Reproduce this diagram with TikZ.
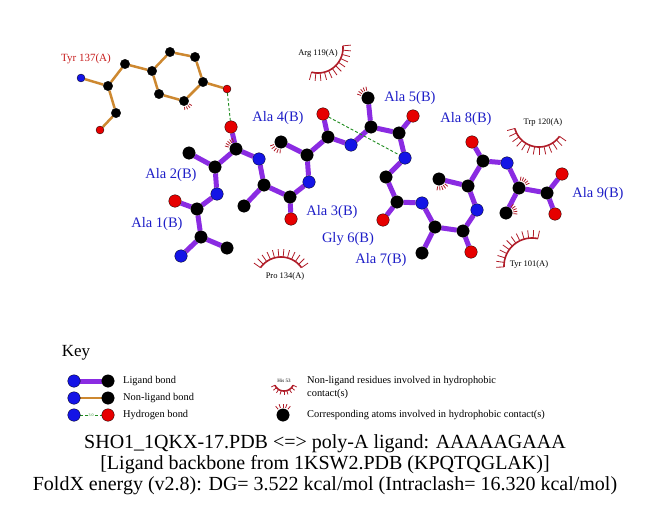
\documentclass[tikz,border=0pt]{standalone}
\usepackage{fontspec}
\setmainfont{Liberation Serif}
\usetikzlibrary{backgrounds}
\definecolor{ligpurple}{RGB}{138,43,226}
\definecolor{nlorange}{RGB}{205,136,48}
\definecolor{atomblue}{RGB}{20,20,230}
\definecolor{atomred}{RGB}{230,0,0}
\definecolor{hbgreen}{RGB}{30,140,30}
\definecolor{lashred}{RGB}{176,28,40}
\definecolor{lblue}{RGB}{30,30,200}
\definecolor{lred}{RGB}{200,30,30}
\tikzset{
  atom/.style={circle, inner sep=0pt, draw=black, line width=0.3pt},
  LC/.style={atom, fill=black, minimum size=12.5pt},
  LN/.style={atom, fill=atomblue, minimum size=12.5pt},
  LO/.style={atom, fill=atomred, minimum size=12.5pt},
  TC/.style={atom, fill=black, minimum size=9.5pt},
  TN/.style={atom, fill=atomblue, minimum size=8pt},
  TO/.style={atom, fill=atomred, minimum size=8pt},
  ligbond/.style={draw=ligpurple, line width=5pt},
  nlbond/.style={draw=nlorange, line width=2.5pt},
  hbond/.style={draw=hbgreen, line width=0.9pt, dash pattern=on 3pt off 2pt},
  reslabel/.style={text=lblue, font=\fontsize{14.5}{16}\selectfont, inner sep=0pt},
  nllabel/.style={text=black, font=\fontsize{8.5}{10}\selectfont, inner sep=0pt},
  keytext/.style={text=black, font=\fontsize{10.4}{12}\selectfont, inner sep=0pt, anchor=west},
  titletext/.style={text=black, font=\fontsize{20}{22}\selectfont, inner sep=0pt},
}
% spokes: cx, cy, r, len, a1, a2, n
\newcommand\spokes[7]{%
  \foreach \k in {0,...,#7}{%
    \pgfmathsetmacro\ang{#5+(#6-#5)*\k/#7}%
    \draw[lashred, line width=0.8pt] ({#1+#3*cos(\ang)},{#2+#3*sin(\ang)}) -- ({#1+(#3+#4)*cos(\ang)},{#2+(#3+#4)*sin(\ang)});
  }}
% residue arc: cx, cy, r, a1, a2
\newcommand\resarc[5]{%
  \draw[lashred, line width=1.6pt] plot[domain=#4:#5, samples=30, variable=\t] ({#1+#3*cos(\t)},{#2+#3*sin(\t)});}
\begin{document}
\begin{tikzpicture}[x=1pt, y=-1pt]
\useasboundingbox (0,0) rectangle (651,511);
% ---------- Tyr 137 (non-ligand) ----------
\node[TN] (t1) at (81,78) {};
\node[TC] (t2) at (108,86) {};
\node[TC] (t3) at (125,64) {};
\node[TC] (t4) at (152,71) {};
\node[TC] (t5) at (170,52) {};
\node[TC] (t6) at (195,57) {};
\node[TC] (t7) at (203,82) {};
\node[TO] (t8) at (227,89) {};
\node[TC] (t9) at (184,101) {};
\node[TC] (t10) at (159,94) {};
\node[TC] (t11) at (116,113) {};
\node[TO] (t12) at (100,130) {};
% ---------- ligand ----------
\node[LN] (a1N) at (181,256) {};
\node[LC] (a1CA) at (201,237) {};
\node[LC] (a1CB) at (227,248) {};
\node[LC] (a1C) at (197,209) {};
\node[LO] (a1O) at (175,201) {};
\node[LN] (a2N) at (217,194) {};
\node[LC] (a2CA) at (215,167) {};
\node[LC] (a2CB) at (189,153) {};
\node[LC] (a2C) at (236,149) {};
\node[LO] (a2O) at (231,127) {};
\node[LN] (a3N) at (259,159) {};
\node[LC] (a3CA) at (264,185) {};
\node[LC] (a3CB) at (244,206) {};
\node[LC] (a3C) at (290,197) {};
\node[LO] (a3O) at (291,219) {};
\node[LN] (a4N) at (309,182) {};
\node[LC] (a4CA) at (307,155) {};
\node[LC] (a4CB) at (281,142) {};
\node[LC] (a4C) at (328,137) {};
\node[LO] (a4O) at (323,114) {};
\node[LN] (a5N) at (351,145) {};
\node[LC] (a5CA) at (371,127) {};
\node[LC] (a5CB) at (368,98) {};
\node[LC] (a5C) at (399,133) {};
\node[LO] (a5O) at (413,116) {};
\node[LN] (a6N) at (405,158) {};
\node[LC] (a6CA) at (386,177) {};
\node[LC] (a6C) at (397,202) {};
\node[LO] (a6O) at (383,220) {};
\node[LN] (a7N) at (422,203) {};
\node[LC] (a7CA) at (435,227) {};
\node[LC] (a7CB) at (422,253) {};
\node[LC] (a7C) at (463,231) {};
\node[LO] (a7O) at (471,252) {};
\node[LN] (a8N) at (477,210) {};
\node[LC] (a8CA) at (468,186) {};
\node[LC] (a8CB) at (439,179) {};
\node[LC] (a8C) at (483,161) {};
\node[LO] (a8O) at (472,142) {};
\node[LN] (a9N) at (507,163) {};
\node[LC] (a9CA) at (519,188) {};
\node[LC] (a9CB) at (506,213) {};
\node[LC] (a9C) at (547,193) {};
\node[LO] (a9Oa) at (562,174) {};
\node[LO] (a9Ob) at (555,214) {};
% ---------- key atoms ----------
\node[LN] (k1a) at (74,381) {};
\node[LC] (k1b) at (108,381) {};
\node[LN] (k2a) at (74,398) {};
\node[LC] (k2b) at (108,398) {};
\node[LN] (k3a) at (74,415) {};
\node[LO] (k3b) at (108,415) {};
\node[LC] (k4) at (283,415) {};
% ---------- bonds (behind atoms) ----------
\begin{pgfonlayer}{background}
\fill[white] (0,0) rectangle (651,511);
\draw[nlbond] (t1) -- (t2);
\draw[nlbond] (t2) -- (t3);
\draw[nlbond] (t3) -- (t4);
\draw[nlbond] (t4) -- (t5);
\draw[nlbond] (t5) -- (t6);
\draw[nlbond] (t6) -- (t7);
\draw[nlbond] (t7) -- (t8);
\draw[nlbond] (t7) -- (t9);
\draw[nlbond] (t9) -- (t10);
\draw[nlbond] (t10) -- (t4);
\draw[nlbond] (t2) -- (t11);
\draw[nlbond] (t11) -- (t12);
\draw[ligbond] (a1N) -- (a1CA);
\draw[ligbond] (a1CA) -- (a1CB);
\draw[ligbond] (a1CA) -- (a1C);
\draw[ligbond] (a1C) -- (a1O);
\draw[ligbond] (a1C) -- (a2N);
\draw[ligbond] (a2N) -- (a2CA);
\draw[ligbond] (a2CA) -- (a2CB);
\draw[ligbond] (a2CA) -- (a2C);
\draw[ligbond] (a2C) -- (a2O);
\draw[ligbond] (a2C) -- (a3N);
\draw[ligbond] (a3N) -- (a3CA);
\draw[ligbond] (a3CA) -- (a3CB);
\draw[ligbond] (a3CA) -- (a3C);
\draw[ligbond] (a3C) -- (a3O);
\draw[ligbond] (a3C) -- (a4N);
\draw[ligbond] (a4N) -- (a4CA);
\draw[ligbond] (a4CA) -- (a4CB);
\draw[ligbond] (a4CA) -- (a4C);
\draw[ligbond] (a4C) -- (a4O);
\draw[ligbond] (a4C) -- (a5N);
\draw[ligbond] (a5N) -- (a5CA);
\draw[ligbond] (a5CA) -- (a5CB);
\draw[ligbond] (a5CA) -- (a5C);
\draw[ligbond] (a5C) -- (a5O);
\draw[ligbond] (a5C) -- (a6N);
\draw[ligbond] (a6N) -- (a6CA);
\draw[ligbond] (a6CA) -- (a6C);
\draw[ligbond] (a6C) -- (a6O);
\draw[ligbond] (a6C) -- (a7N);
\draw[ligbond] (a7N) -- (a7CA);
\draw[ligbond] (a7CA) -- (a7CB);
\draw[ligbond] (a7CA) -- (a7C);
\draw[ligbond] (a7C) -- (a7O);
\draw[ligbond] (a7C) -- (a8N);
\draw[ligbond] (a8N) -- (a8CA);
\draw[ligbond] (a8CA) -- (a8CB);
\draw[ligbond] (a8CA) -- (a8C);
\draw[ligbond] (a8C) -- (a8O);
\draw[ligbond] (a8C) -- (a9N);
\draw[ligbond] (a9N) -- (a9CA);
\draw[ligbond] (a9CA) -- (a9CB);
\draw[ligbond] (a9CA) -- (a9C);
\draw[ligbond] (a9C) -- (a9Oa);
\draw[ligbond] (a9C) -- (a9Ob);
\draw[hbond] (t8) -- (a2O);
\draw[hbond] (a4O) -- (a6N);
\draw[ligbond] (k1a) -- (k1b);
\draw[nlbond] (k2a) -- (k2b);
\draw[hbond] (k3a) -- node[midway, fill=white, inner sep=0.6pt, text=hbgreen, font=\fontsize{4}{4}\selectfont] {3.0} (k3b);
\end{pgfonlayer}
% ---------- hydrophobic marks on atoms ----------
\spokes{236}{149}{7.5}{4}{195}{250}{4}
\spokes{281}{142}{7.5}{4}{95}{160}{4}
\spokes{184}{101}{6}{3}{30}{85}{3}
\spokes{368}{98}{7.5}{4}{200}{260}{4}
\spokes{439}{179}{7.5}{4}{40}{100}{4}
\spokes{519}{188}{7.5}{4}{280}{335}{4}
\spokes{506}{213}{7.5}{4}{310}{365}{4}
\spokes{283}{415}{7.5}{4}{230}{310}{4}
% ---------- non-ligand residues in hydrophobic contact ----------
\resarc{318}{48}{25}{-5}{105}
\spokes{318}{48}{25}{8}{-5}{105}{11}
\node[nllabel] (lArg) at (318,53) {Arg 119(A)};
\resarc{539}{122}{25}{35}{165}
\spokes{539}{122}{25}{8}{35}{165}{12}
\node[nllabel] (lTrp) at (543,122) {Trp 120(A)};
\resarc{532}{266}{28}{178}{282}
\spokes{532}{266}{28}{8}{178}{282}{11}
\node[nllabel] (lTyr101) at (529,264) {Tyr 101(A)};
\resarc{281}{282}{25}{215}{325}
\spokes{281}{282}{25}{8}{215}{325}{11}
\node[nllabel] (lPro) at (285,276) {Pro 134(A)};
% ---------- labels ----------
\node[text=lred, font=\fontsize{11}{12}\selectfont, inner sep=0pt] (lTyr137) at (86,59) {Tyr 137(A)};
\node[reslabel] (r1) at (157,224) {Ala 1(B)};
\node[reslabel] (r2) at (171,175) {Ala 2(B)};
\node[reslabel] (r3) at (332,212) {Ala 3(B)};
\node[reslabel] (r4) at (278,118) {Ala 4(B)};
\node[reslabel] (r5) at (410,98) {Ala 5(B)};
\node[reslabel] (r6) at (348,239) {Gly 6(B)};
\node[reslabel] (r7) at (381,260) {Ala 7(B)};
\node[reslabel] (r8) at (466,119) {Ala 8(B)};
\node[reslabel] (r9) at (598,194) {Ala 9(B)};
% ---------- key ----------
\node[font=\fontsize{17}{19}\selectfont, inner sep=0pt] (key) at (76,353) {Key};
\node[keytext] (kt1) at (123,381) {Ligand bond};
\node[keytext] (kt2) at (123,398) {Non-ligand bond};
\node[keytext] (kt3) at (123,415) {Hydrogen bond};
\resarc{284}{381}{10}{25}{155}
\spokes{284}{381}{10}{4}{25}{155}{8}
\node[font=\fontsize{5}{5}\selectfont, inner sep=0pt] (khis) at (284,381) {His 53};
\node[keytext] (kt4) at (307,381) {Non-ligand residues involved in hydrophobic};
\node[keytext] (kt4b) at (307,394) {contact(s)};
\node[keytext] (kt5) at (307,415) {Corresponding atoms involved in hydrophobic contact(s)};
% ---------- title ----------
\node[titletext] (ttl1) at (325,444) {SHO1\_1QKX-17.PDB <=> poly-A ligand: AAAAAGAAA};
\node[titletext] (ttl2) at (325,465) {[Ligand backbone from 1KSW2.PDB (KPQTQGLAK)]};
\node[titletext] (ttl3) at (325,486) {FoldX energy (v2.8): DG= 3.522 kcal/mol (Intraclash= 16.320 kcal/mol)};
\end{tikzpicture}
\end{document}
